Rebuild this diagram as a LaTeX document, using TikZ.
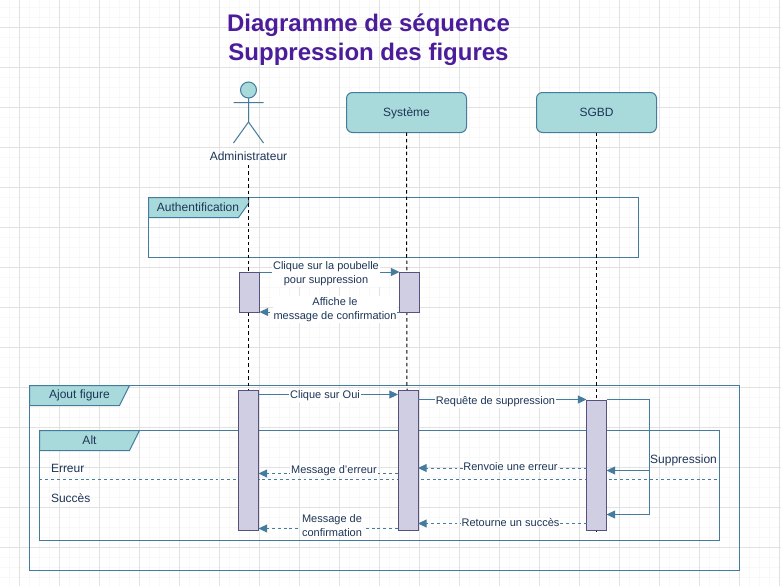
\documentclass[tikz,border=0pt]{standalone}
\usepackage{fontspec}
\setmainfont{Liberation Sans}
\usetikzlibrary{arrows.meta}
\definecolor{tealfill}{HTML}{A8DADC}
\definecolor{tealline}{HTML}{457B9D}
\definecolor{inktext}{HTML}{1D3557}
\definecolor{barfill}{HTML}{D0CEE2}
\definecolor{barline}{HTML}{56517E}
\definecolor{titlecol}{HTML}{4C1D9A}
\definecolor{gridminor}{HTML}{F8F8F8}
\definecolor{gridmajor}{HTML}{E2E2E2}
\tikzset{
  every node/.style={font=\fontsize{9}{10.8}\selectfont,text=inktext,inner sep=0pt,outer sep=0pt},
  headbox/.style={draw=tealline,fill=tealfill,rounded corners=4.5pt,line width=.75pt,minimum width=90pt,minimum height=30pt,text height=6.6pt,text depth=1.9pt},
  framebox/.style={draw=tealline,line width=.75pt},
  tabshape/.style={draw=tealline,fill=tealfill,line width=.75pt},
  lifeline/.style={draw=black,line width=.75pt,dash pattern=on 2.6pt off 2.2pt},
  activation/.style={draw=barline,fill=barfill,line width=.75pt,minimum width=15pt},
  msg/.style={draw=tealline,line width=.75pt,-{Triangle[length=6.5pt,width=6pt,fill=tealline]}},
  reply/.style={msg,dash pattern=on 2.2pt off 2.2pt},
  msglabel/.style={font=\fontsize{8.25}{10.7}\selectfont,fill=white,align=center,inner sep=.6pt},
}
\begin{document}
\begin{tikzpicture}[x=.75pt,y=-.75pt]
\useasboundingbox (0,0) rectangle (781,586);
\fill[white] (0,0) rectangle (781,586);
% grid
\foreach \k in {0,...,77}{\draw[gridminor,line width=1.2pt] ({9.5+10*\k},0) -- ({9.5+10*\k},586);}
\foreach \k in {0,...,58}{\draw[gridminor,line width=1.2pt] (0,{7.5+10*\k}) -- (781,{7.5+10*\k});}
\foreach \k in {0,...,19}{\draw[gridmajor,line width=.75pt] ({19.5+40*\k},0) -- ({19.5+40*\k},586);}
\foreach \k in {0,...,14}{\draw[gridmajor,line width=.75pt] (0,{27.5+40*\k}) -- (781,{27.5+40*\k});}
% title
\node[font=\fontsize{18}{21.6}\selectfont\bfseries,text=titlecol,align=center] (title) at (368.5,39.5) {Diagramme de séquence\\Suppression des figures};
% heads
\node[headbox] (sys) at (406.5,112.5) {\raisebox{-.7pt}{Système}};
\node[headbox] (db) at (596.5,112.5) {\raisebox{-.7pt}{SGBD}};
\draw[tealline,fill=tealfill,line width=.75pt] (248.5,90) circle (6pt);
\draw[tealline,line width=.75pt] (248.5,98) -- (248.5,122) (233.5,102.5) -- (263.5,102.5) (233.5,143) -- (248.5,122) -- (263.5,143);
\node (admin) at (248.5,156) {Administrateur};
% frames
\node[framebox,minimum width=367.5pt,minimum height=45pt,anchor=north west] (fauth) at (148.5,197.5) {};
\node[framebox,minimum width=532.5pt,minimum height=138.75pt,anchor=north west] (fajout) at (29.5,385.5) {};
\node[framebox,minimum width=510pt,minimum height=82.5pt,anchor=north west] (falt) at (39.5,430.5) {};
\coordinate (ydiv) at (0,479.5);
\draw[tealline,line width=.75pt,dash pattern=on 2.2pt off 2.2pt] (falt.west |- ydiv) -- (falt.east |- ydiv);
% tabs
\draw[tabshape] (fauth.north west) -- ++(100,0) -- ++(0,6) -- ++(-10,14) -- ++(-90,0) -- cycle;
\node (tauth) at (198,207.5) {Authentification};
\draw[tabshape] (fajout.north west) -- ++(100,0) -- ++(-10,20) -- ++(-90,0) -- cycle;
\node (tajout) at (79.5,395.5) {Ajout figure};
\draw[tabshape] (falt.north west) -- ++(100,0) -- ++(-10,20) -- ++(-90,0) -- cycle;
\node (talt) at (89.5,440.5) {Alt};
\node[anchor=west] (erreur) at (51,468.5) {Erreur};
\node[anchor=west] (succes) at (51,498.5) {Succès};
% lifelines
\coordinate (adminlife) at (248,165);
\coordinate (adminend) at (248,390.5);
\coordinate (sysend) at (407,390.5);
\coordinate (dbend) at (596.5,532);
\draw[lifeline] (adminlife) -- (adminend);
\draw[lifeline] (sys.south) -- (sysend);
\draw[lifeline] (db.south) -- (dbend);
% activation bars
\node[activation,minimum height=30pt,anchor=north] (a1) at (249.5,272) {};
\node[activation,minimum height=30pt,anchor=north] (s1) at (409.5,272) {};
\node[activation,minimum height=105pt,anchor=north] (a2) at (248.5,390.5) {};
\node[activation,minimum height=105pt,anchor=north] (s2) at (408,390.5) {};
\node[activation,minimum height=97.5pt,anchor=north] (d2) at (596.5,400.5) {};
% message heights
\coordinate (y3) at (0,394.5);
\coordinate (y4) at (0,399.5);
\coordinate (y5) at (0,468);
\coordinate (y6) at (0,473.5);
\coordinate (y7) at (0,523.5);
\coordinate (y8) at (0,528.5);
% messages
\draw[msg] (a1.north east) -- (s1.north west);
\node[msglabel] (m1) at (326,273.5) {Clique sur la poubelle\\pour suppression};
\draw[reply] (s1.south west) -- (a1.south east);
\node[msglabel] (m2) at (335,309.5) {Affiche le\\message de confirmation};
\draw[msg] (a2.east |- y3) -- (s2.west |- y3);
\node[msglabel] (m3) at (325,396) {Clique sur Oui};
\draw[msg] (s2.east |- y4) -- (d2.west |- y4);
\node[msglabel] (m4) at (495.5,402) {Requête de suppression};
\draw[reply] (d2.west |- y5) -- (s2.east |- y5);
\node[msglabel] (m5) at (510.5,467) {Renvoie une erreur};
\draw[reply] (s2.west |- y6) -- (a2.east |- y6);
\node[msglabel] (m6) at (334,470.5) {Message d'erreur};
\draw[reply] (d2.west |- y7) -- (s2.east |- y7);
\node[msglabel] (m7) at (510.5,522.5) {Retourne un succès};
\draw[reply] (s2.west |- y8) -- (a2.east |- y8);
\node[msglabel] (m8) at (332,525.5) {Message de\\confirmation};
% self message
\coordinate (loopa) at (649.5,399.5);
\coordinate (loopb) at (649.5,514.5);
\coordinate (loopc) at (649.5,470.5);
\draw[msg] (d2.east |- loopa) -- (loopa) -- (loopb) -- (d2.east |- loopb);
\draw[msg] (loopc) -- (d2.east |- loopc);
\node[anchor=west,inner sep=.5pt] (m9) at (649.5,460.5) {Suppression};
\end{tikzpicture}
\end{document}
